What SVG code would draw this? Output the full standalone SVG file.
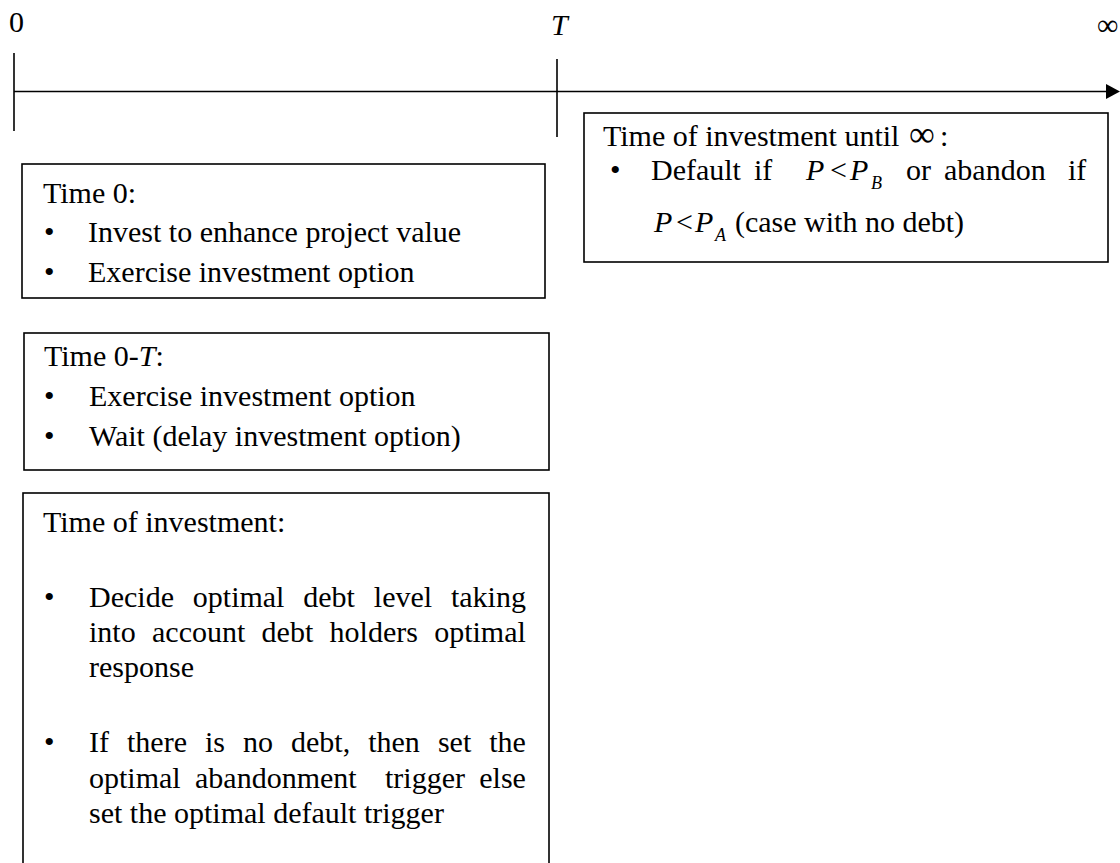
<svg xmlns="http://www.w3.org/2000/svg" width="1120" height="863" viewBox="0 0 1120 863">
<style>
text{font-family:"Liberation Serif","Times New Roman",serif;font-size:30px;fill:#000}
.it{font-style:italic}
.sub{font-size:18px;font-style:italic}
.inf{font-size:36px}
.box{fill:#fff;stroke:#000;stroke-width:1.6}
.ln{stroke:#000;stroke-width:1.6;fill:none}
</style>
<defs>
<marker id="arr" markerWidth="14" markerHeight="15" refX="0" refY="7.5" orient="auto" markerUnits="userSpaceOnUse">
<path d="M0,0 L14,7.5 L0,15 Z" fill="#000"/>
</marker>
</defs>
<rect width="1120" height="863" fill="#fff"/>
<g id="connectors">
<line class="ln" x1="14" y1="91.5" x2="1106" y2="91.5" marker-end="url(#arr)"/>
<line class="ln" x1="14" y1="53" x2="14" y2="131"/>
<line class="ln" x1="557" y1="59" x2="557" y2="137"/>
</g>
<g id="labels">
<text x="9" y="32">0</text>
<text x="551" y="35" class="it">T</text>
<text x="1097" y="35">∞</text>
</g>
<g id="box-until-infinity">
<rect class="box" x="584" y="113" width="524" height="149"/>
<text x="603" y="146">Time of investment until</text>
<text x="909" y="146" class="inf">∞</text>
<text x="940" y="146">:</text>
<text x="610" y="180">•</text>
<text y="180"><tspan x="651">Default</tspan><tspan x="754">if</tspan><tspan x="806" class="it">P</tspan><tspan x="830">&lt;</tspan><tspan x="850" class="it">P</tspan></text>
<text x="871" y="189" class="sub">B</text>
<text y="180"><tspan x="906">or</tspan><tspan x="944">abandon</tspan><tspan x="1068">if</tspan></text>
<text y="232"><tspan x="654" class="it">P</tspan><tspan x="676">&lt;</tspan><tspan x="695" class="it">P</tspan></text>
<text x="715" y="241" class="sub">A</text>
<text x="735" y="232">(case with no debt)</text>
</g>
<g id="box-time0">
<rect class="box" x="22" y="164" width="523" height="134"/>
<text x="43" y="203">Time 0:</text>
<text x="44" y="242">•</text>
<text x="88" y="242">Invest to enhance project value</text>
<text x="44" y="282">•</text>
<text x="88" y="282">Exercise investment option</text>
</g>
<g id="box-time0T">
<rect class="box" x="24" y="333" width="525" height="137"/>
<text x="44" y="366">Time 0-<tspan class="it">T</tspan>:</text>
<text x="44" y="406">•</text>
<text x="89" y="406">Exercise investment option</text>
<text x="44" y="446">•</text>
<text x="89" y="446">Wait (delay investment option)</text>
</g>
<g id="box-time-of-investment">
<rect class="box" x="23" y="493" width="526" height="380"/>
<text x="43" y="532">Time of investment:</text>
<text x="44" y="607">•</text>
<text y="607"><tspan x="89">Decide</tspan><tspan x="192.8">optimal</tspan><tspan x="303.3">debt</tspan><tspan x="373.8">level</tspan><tspan x="450.9">taking</tspan></text>
<text y="642"><tspan x="89">into</tspan><tspan x="152">account</tspan><tspan x="261.6">debt</tspan><tspan x="329.6">holders</tspan><tspan x="434.2">optimal</tspan></text>
<text x="89" y="677">response</text>
<text x="44" y="752">•</text>
<text y="752"><tspan x="89">If</tspan><tspan x="127">there</tspan><tspan x="205">is</tspan><tspan x="243">no</tspan><tspan x="291">debt,</tspan><tspan x="368.2">then</tspan><tspan x="437.9">set</tspan><tspan x="489.2">the</tspan></text>
<text y="788"><tspan x="89">optimal</tspan><tspan x="195">abandonment</tspan><tspan x="385">trigger</tspan><tspan x="479.3">else</tspan></text>
<text x="89" y="823">set the optimal default trigger</text>
</g>
</svg>
